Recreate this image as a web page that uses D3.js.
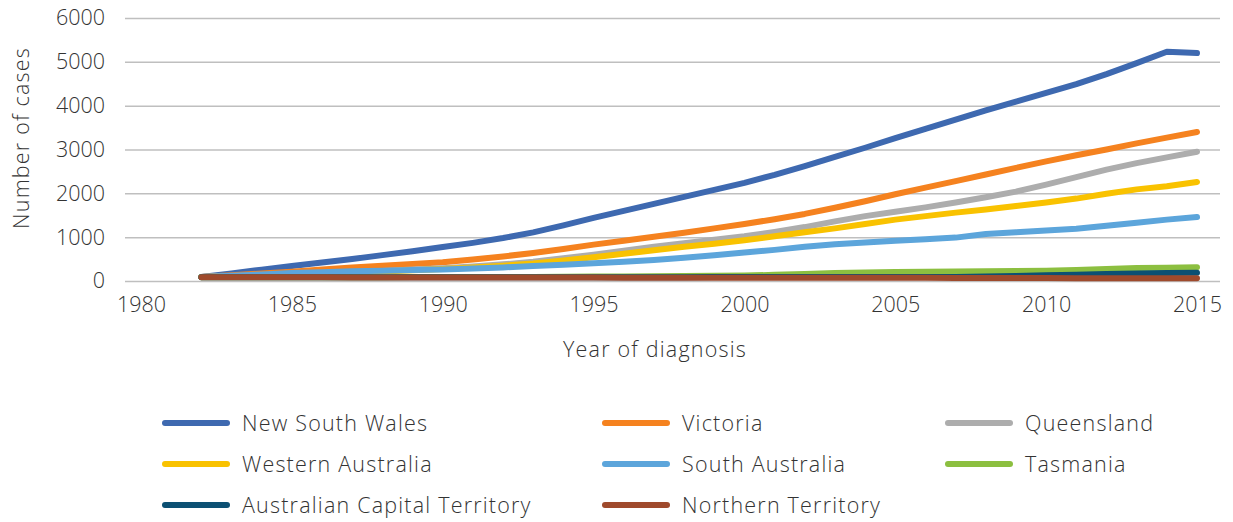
<!DOCTYPE html>
<html>
<head>
<meta charset="utf-8">
<script src="https://cdn.jsdelivr.net/npm/d3@7"></script>
<style>
  body { margin: 0; background: #fff; }
  svg text { font-family: "Open Sans", Lato, sans-serif; font-weight: 300; fill: #333; }
</style>
</head>
<body>
<div id="chart"></div>
<script>
const years = d3.range(1982, 2016);

const states = ["New South Wales", "Victoria", "Queensland", "Western Australia",
  "South Australia", "Tasmania", "Australian Capital Territory", "Northern Territory"];
const colors = ["#3e69b0", "#f5821f", "#adadad", "#f9c200", "#5ca5db", "#8cbf40", "#0c5073", "#9f4a2c"];

const nsw = [90, 170, 260, 340, 420, 500, 590, 680, 775, 870, 980, 1110, 1270, 1440, 1600, 1760, 1920,
  2080, 2240, 2420, 2620, 2830, 3040, 3260, 3470, 3680, 3890, 4090, 4290, 4490, 4720, 4970, 5230, 5200];
const vic = [90, 130, 170, 210, 260, 310, 350, 390, 430, 490, 560, 640, 730, 830, 920, 1010, 1100,
  1200, 1300, 1410, 1530, 1670, 1820, 1980, 2130, 2280, 2430, 2580, 2730, 2870, 3000, 3140, 3270, 3400];
const qld = [90, 110, 130, 150, 175, 200, 230, 260, 290, 330, 380, 440, 520, 600, 690, 780, 860,
  940, 1020, 1120, 1230, 1360, 1480, 1580, 1680, 1790, 1910, 2040, 2200, 2370, 2540, 2690, 2820, 2950];
const wa = [90, 105, 125, 145, 165, 190, 215, 245, 275, 310, 350, 400, 470, 540, 620, 700, 780,
  850, 930, 1020, 1110, 1200, 1300, 1400, 1480, 1560, 1630, 1710, 1790, 1880, 1990, 2090, 2160, 2260];
const sa = [90, 120, 150, 180, 200, 220, 235, 250, 265, 285, 310, 340, 370, 405, 440, 480, 530,
  590, 650, 710, 780, 840, 880, 920, 950, 990, 1070, 1110, 1150, 1190, 1260, 1330, 1400, 1460];
const tas = [85, 85, 86, 86, 87, 88, 88, 89, 90, 90, 92, 94, 96, 100, 104, 108, 112,
  118, 125, 140, 160, 180, 195, 205, 210, 215, 220, 228, 235, 250, 275, 295, 305, 315];
const act = [85, 85, 85, 85, 85, 85, 85, 86, 86, 86, 86, 87, 87, 87, 88, 88, 88,
  89, 89, 89, 90, 90, 90, 90, 91, 92, 100, 115, 130, 145, 160, 170, 180, 190];
const nt = [85, 84, 84, 83, 83, 82, 82, 81, 80, 80, 79, 79, 78, 78, 77, 77, 76,
  76, 75, 75, 74, 74, 73, 73, 72, 71, 70, 68, 66, 64, 63, 62, 61, 60];

const seriesValues = [nsw, vic, qld, wa, sa, tas, act, nt];
const yTicks = [0, 1000, 2000, 3000, 4000, 5000, 6000];
const xTicks = [1980, 1985, 1990, 1995, 2000, 2005, 2010, 2015];

const width = 1233, height = 522;
const plot = { left: 125, right: 1220, top: 18, bottom: 281 };
const fontSize = 21.5;
const spacing = "1.2px";

const svg = d3.select("#chart").append("svg")
  .attr("width", width)
  .attr("height", height);

const x = d3.scaleLinear().domain([1980, 2015]).range([141, 1197]);
const y = d3.scaleLinear().domain([0, 6000]).range([plot.bottom, plot.top]);

// gridlines + y labels
const yAxis = svg.append("g")
  .attr("transform", `translate(${plot.left},0)`)
  .call(d3.axisLeft(y).tickValues(yTicks).tickFormat(d3.format("d"))
    .tickSize(-(plot.right - plot.left)).tickPadding(20));
yAxis.select(".domain").remove();
yAxis.selectAll(".tick line").attr("stroke", "#bfbfbf").attr("stroke-width", 1.5);
yAxis.selectAll(".tick text").attr("font-size", fontSize).attr("fill", "#333");

const xAxis = svg.append("g")
  .attr("transform", `translate(0,${plot.bottom})`)
  .call(d3.axisBottom(x).tickValues(xTicks).tickFormat(d3.format("d")).tickSize(0).tickPadding(16));
xAxis.select(".domain").remove();
xAxis.selectAll(".tick text").attr("font-size", fontSize).attr("fill", "#333");

// axis titles
svg.append("text")
  .attr("x", 655)
  .attr("y", 349)
  .attr("dy", "0.35em")
  .attr("text-anchor", "middle")
  .attr("font-size", fontSize)
  .attr("letter-spacing", spacing)
  .text("Year of diagnosis");

svg.append("text")
  .attr("transform", "translate(21,138) rotate(-90)")
  .attr("dy", "0.35em")
  .attr("text-anchor", "middle")
  .attr("font-size", fontSize)
  .attr("letter-spacing", spacing)
  .text("Number of cases");

// lines
const line = d3.line()
  .x((d, i) => x(years[i]))
  .y(d => y(d));

svg.append("g")
  .selectAll("path")
  .data(seriesValues)
  .join("path")
  .attr("d", d => line(d))
  .attr("fill", "none")
  .attr("stroke", (d, i) => colors[i])
  .attr("stroke-width", 6)
  .attr("stroke-linecap", "round")
  .attr("stroke-linejoin", "round");

// legend
const colX = [165, 605, 948];
const rowY = [423, 464, 505];

const legend = svg.append("g")
  .selectAll("g")
  .data(states)
  .join("g")
  .attr("transform", (d, i) => `translate(${colX[i % 3]},${rowY[Math.floor(i / 3)]})`);

legend.append("line")
  .attr("x1", 0)
  .attr("x2", 62)
  .attr("stroke", (d, i) => colors[i])
  .attr("stroke-width", 6)
  .attr("stroke-linecap", "round");

legend.append("text")
  .attr("x", 77)
  .attr("dy", "0.35em")
  .attr("font-size", fontSize)
  .attr("letter-spacing", spacing)
  .text(d => d);
</script>
</body>
</html>
